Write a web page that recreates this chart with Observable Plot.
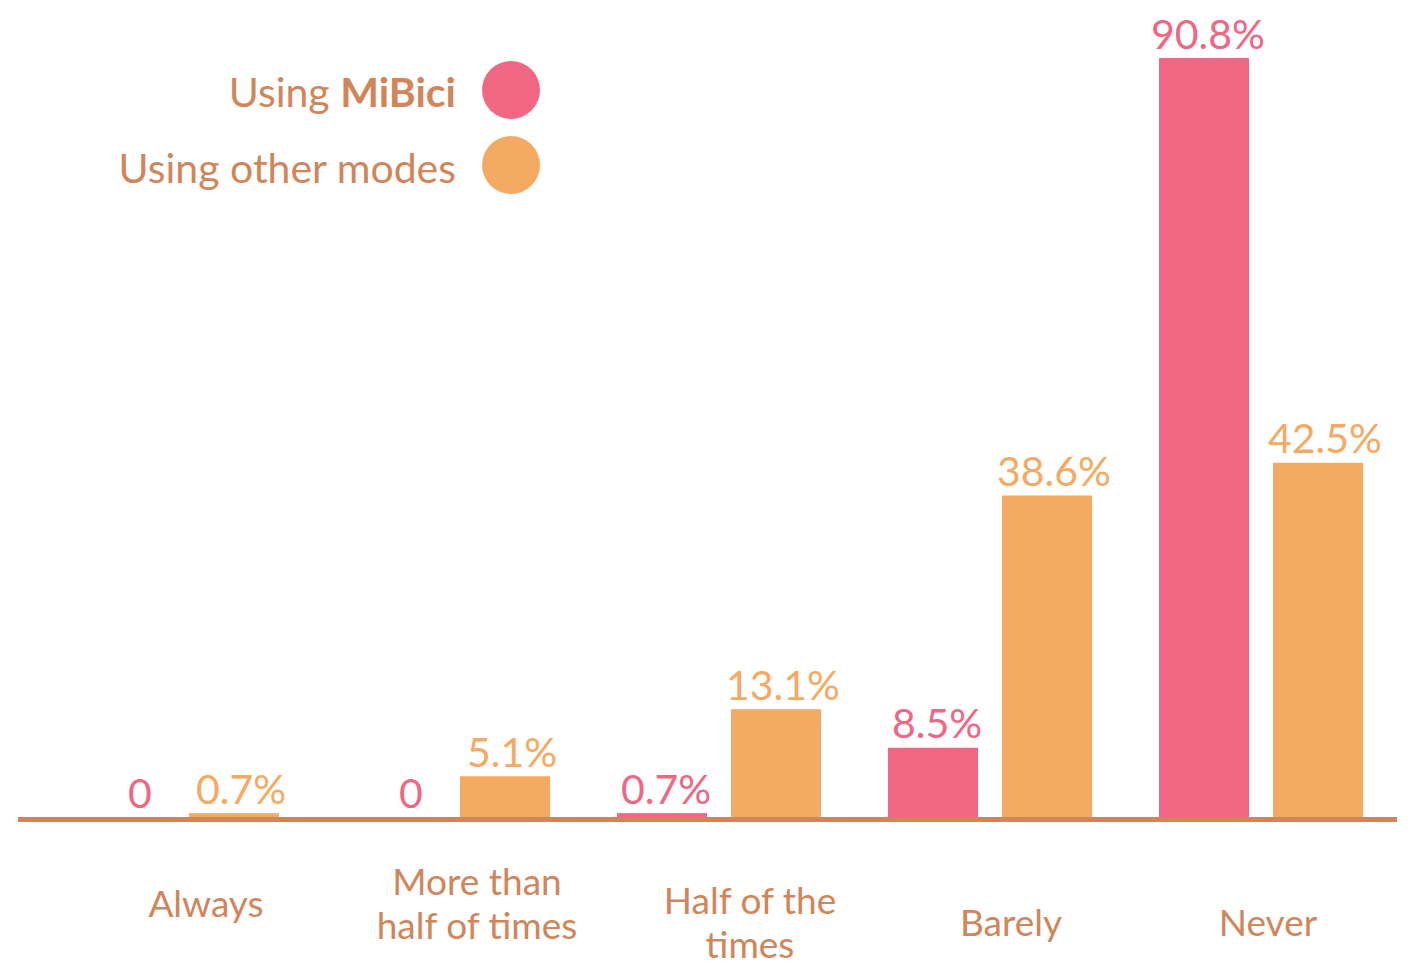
<!DOCTYPE html>
<html>
<head>
<meta charset="utf-8">
<script src="https://cdn.jsdelivr.net/npm/d3@7"></script>
<script src="https://cdn.jsdelivr.net/npm/@observablehq/plot@0.6"></script>
<style>
  html, body { margin: 0; padding: 0; background: #fff; }
  #wrap { position: relative; width: 1414px; height: 966px; font-family: Lato, sans-serif; }
  .legend { position: absolute; left: 0; width: 456px; text-align: right; color: #D0855A; font-size: 41px; line-height: 1; white-space: nowrap; }
  .dot { position: absolute; width: 58px; height: 58px; border-radius: 50%; }
</style>
</head>
<body>
<div id="wrap">
  <div class="legend" style="top:71px">Using <b>MiBici</b></div>
  <div class="dot" style="left:482px; top:61px; background:#F06683"></div>
  <div class="legend" style="top:147px">Using other modes</div>
  <div class="dot" style="left:482px; top:136px; background:#F4AA62"></div>
</div>
<script>
const categories = ["Always", "More than\nhalf of times", "Half of the\ntimes", "Barely", "Never"];
const mibici = [0, 0, 0.7, 8.5, 90.8];
const otherModes = [0.7, 5.1, 13.1, 38.6, 42.5];

const pink = "#F06683", orange = "#F4AA62", brown = "#D0855A";
const fmt = v => v === 0 ? "0" : `${d3.format(".1f")(v)}%`;

const mData = categories.map((c, i) => ({category: c, value: mibici[i]}));
const oData = categories.map((c, i) => ({category: c, value: otherModes[i]}));
const catData = categories.map(c => ({category: c}));

const catLabel = (rows, dx, dy) => Plot.text(rows, {
  x: "category", y: 0, text: "category", fill: brown, fontSize: 37,
  lineHeight: 1.2, lineAnchor: "middle", dx, dy
});

const chart = Plot.plot({
  width: 1414,
  height: 966,
  marginLeft: 18,
  marginRight: 17,
  marginTop: 58,
  marginBottom: 147,
  style: {fontFamily: "Lato, sans-serif", background: "transparent", overflow: "visible"},
  x: {domain: categories, paddingInner: 0, paddingOuter: 0.035, align: 1, axis: null},
  y: {domain: [0, 90.8], axis: null},
  marks: [
    Plot.barY(mData, {x: "category", y: "value", fill: pink, insetLeft: 33, insetRight: 148}),
    Plot.barY(oData, {x: "category", y: "value", fill: orange, insetLeft: 147, insetRight: 34}),
    Plot.ruleY([0], {stroke: brown, strokeWidth: 5}),
    Plot.text(mData.filter(d => d.value !== 0), {x: "category", y: "value", text: d => fmt(d.value), fill: pink, fontSize: 41, lineAnchor: "bottom", dx: -54, dy: -10}),
    Plot.text(mData.filter(d => d.value === 0), {x: "category", y: "value", text: d => fmt(d.value), fill: pink, fontSize: 41, lineAnchor: "bottom", dx: -38, dy: -12}),
    Plot.text(oData, {x: "category", y: "value", text: d => fmt(d.value), fill: orange, fontSize: 41, lineAnchor: "bottom", dx: 63, dy: -10}),
    catLabel(catData.slice(0, 2), 28, 83),
    catLabel(catData.slice(2, 3), 30, 102),
    catLabel(catData.slice(3, 4), 20, 102),
    catLabel(catData.slice(4, 5), 6, 102)
  ]
});
document.getElementById("wrap").prepend(chart);
chart.style.position = "absolute";
chart.style.left = "0";
chart.style.top = "0";
</script>
</body>
</html>
